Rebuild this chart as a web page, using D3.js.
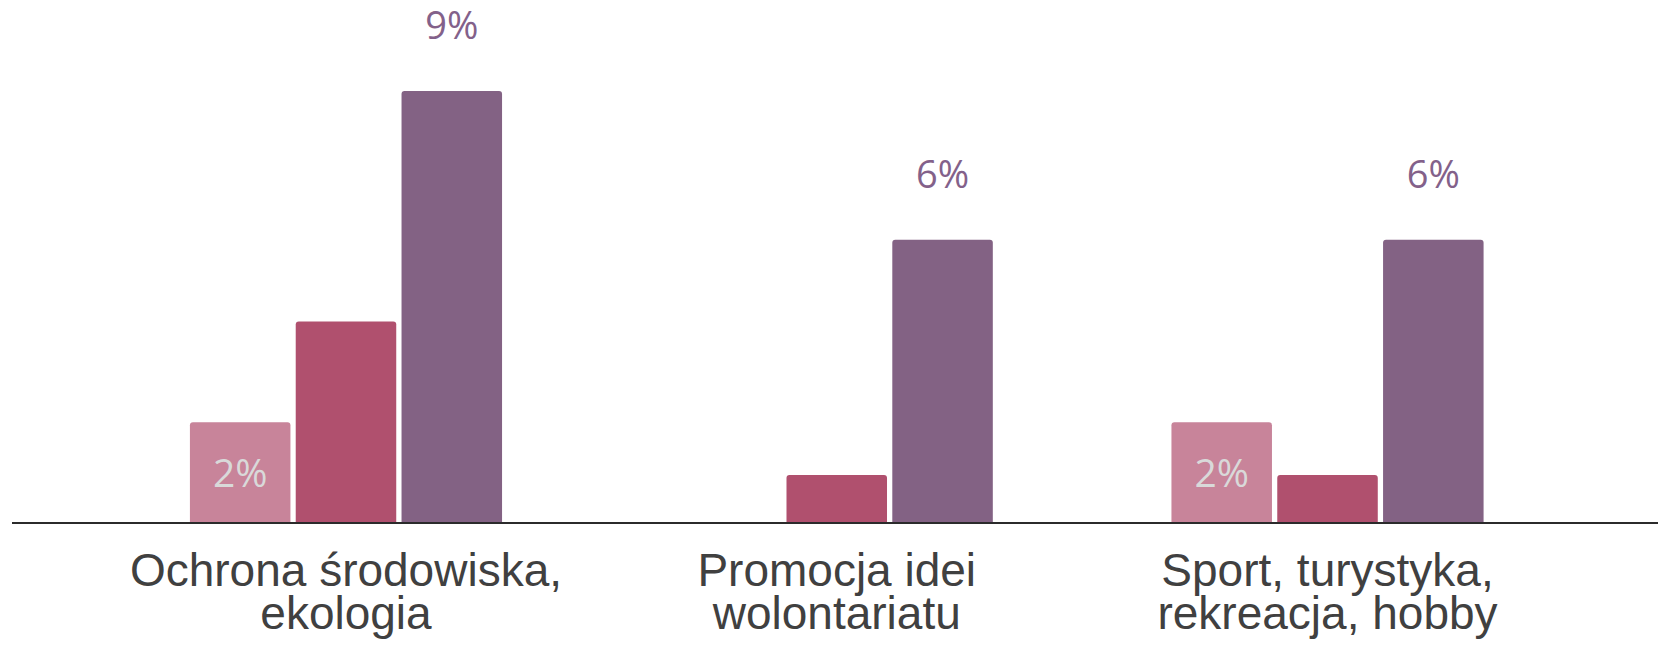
<!DOCTYPE html>
<html>
<head>
<meta charset="utf-8">
<script src="https://cdn.jsdelivr.net/npm/d3@7"></script>
<style>
  html, body { margin: 0; padding: 0; background: #ffffff; }
  svg { display: block; }
</style>
</head>
<body>
<svg id="chart" width="1665" height="645"></svg>
<script>
// ---- data ----
const categories = [
  "Ochrona środowiska,\nekologia",
  "Promocja idei\nwolontariatu",
  "Sport, turystyka,\nrekreacja, hobby"
];
const seriesNames = ["Seria 1", "Seria 2", "Seria 3"];
const seriesPink   = [2.1, 0, 2.1];
const seriesRed    = [4.2, 1.0, 1.0];
const seriesPurple = [9.0, 5.9, 5.9];
const labelsPink   = ["2%", "", "2%"];
const labelsRed    = ["", "", ""];
const labelsPurple = ["9%", "6%", "6%"];

// ---- table built from arrays ----
const valuesBySeries = [seriesPink, seriesRed, seriesPurple];
const labelsBySeries = [labelsPink, labelsRed, labelsPurple];
const colors = ["#c8849a", "#b0506e", "#836284"];

const rows = [];
categories.forEach((c, i) => {
  seriesNames.forEach((s, j) => {
    rows.push({cat: c, series: s, j: j, value: valuesBySeries[j][i], label: labelsBySeries[j][i]});
  });
});

const svg = d3.select("#chart");

const x0 = d3.scaleBand()
  .domain(categories)
  .range([100.6, 1572.9])
  .paddingInner(0.364)
  .paddingOuter(0.182);

const x1 = d3.scaleBand()
  .domain(seriesNames)
  .range([0, x0.bandwidth()])
  .paddingInner(0.05)
  .paddingOuter(0);

const y = d3.scaleLinear()
  .domain([0, 10])
  .range([523, 43]);

const r = 3;
function barPath(d) {
  const x = x0(d.cat) + x1(d.series);
  const w = x1.bandwidth();
  const y0 = y(0), yt = y(d.value);
  const h = y0 - yt;
  if (h <= 0) return "";
  const rr = Math.min(r, h);
  return `M${x},${y0}V${yt + rr}Q${x},${yt} ${x + rr},${yt}H${x + w - rr}Q${x + w},${yt} ${x + w},${yt + rr}V${y0}Z`;
}

svg.append("g").selectAll("path")
  .data(rows)
  .join("path")
  .attr("d", barPath)
  .attr("fill", d => colors[d.j]);

// baseline axis
svg.append("line")
  .attr("x1", 12).attr("x2", 1658)
  .attr("y1", y(0)).attr("y2", y(0))
  .attr("stroke", "#2b2b2b")
  .attr("stroke-width", 2);

// labels above purple bars
svg.append("g").selectAll("text")
  .data(rows.filter(d => d.j === 2 && d.label))
  .join("text")
  .attr("x", d => x0(d.cat) + x1(d.series) + x1.bandwidth() / 2)
  .attr("y", d => y(d.value) - 52)
  .attr("text-anchor", "middle")
  .attr("font-family", "'Open Sans', sans-serif")
  .attr("font-size", 38)
  .attr("fill", "#83618a")
  .text(d => d.label);

// labels inside pink bars
svg.append("g").selectAll("text")
  .data(rows.filter(d => d.j === 0 && d.label))
  .join("text")
  .attr("x", d => x0(d.cat) + x1(d.series) + x1.bandwidth() / 2)
  .attr("y", d => (y(d.value) + y(0)) / 2)
  .attr("dy", "0.37em")
  .attr("text-anchor", "middle")
  .attr("font-family", "'Open Sans', sans-serif")
  .attr("font-size", 39)
  .attr("fill", "#d9d9d9")
  .text(d => d.label);

// category labels
const catG = svg.append("g").selectAll("text")
  .data(categories)
  .join("text")
  .attr("x", d => x0(d) + x0.bandwidth() / 2)
  .attr("y", 586)
  .attr("text-anchor", "middle")
  .attr("font-family", "'Liberation Sans', Arial, sans-serif")
  .attr("font-size", 46)
  .attr("fill", "#404040");

catG.each(function(d) {
  const t = d3.select(this);
  const lines = d.split("\n");
  lines.forEach((ln, i) => {
    t.append("tspan")
      .attr("x", x0(d) + x0.bandwidth() / 2)
      .attr("dy", i === 0 ? 0 : 43)
      .text(ln);
  });
});
</script>
</body>
</html>
